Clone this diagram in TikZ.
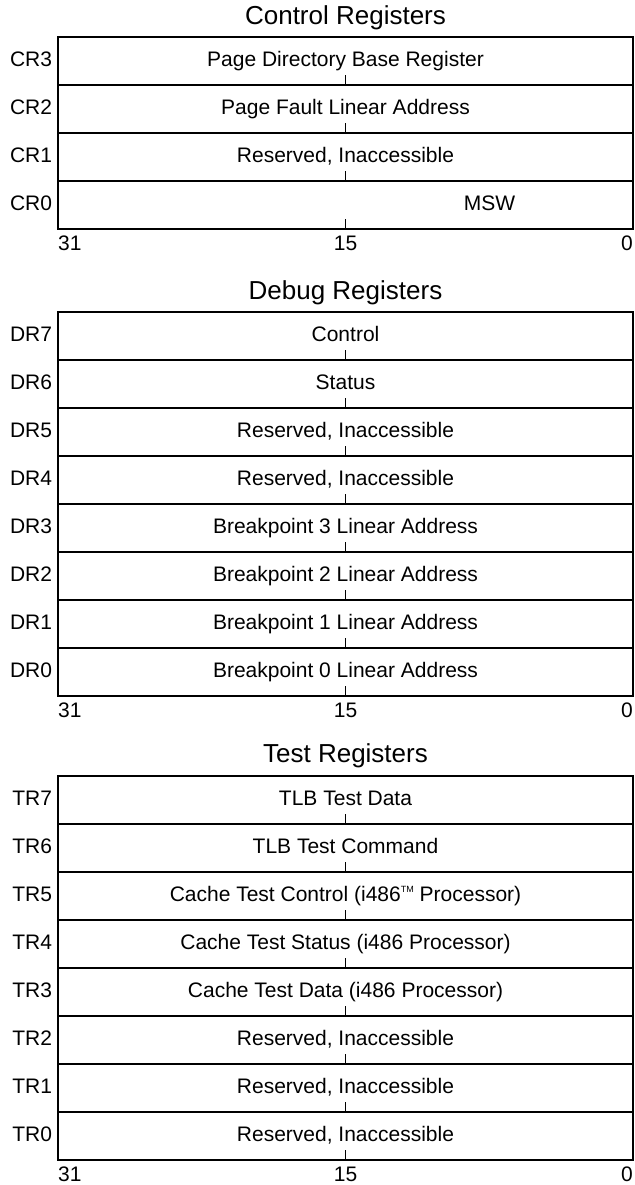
\documentclass[tikz,border=0pt]{standalone}
\usepackage{fontspec}
\setmainfont{Liberation Sans}
\usetikzlibrary{positioning}
\newcommand{\rowfont}{\fontsize{21}{24}\selectfont}
\newcommand{\ttlfont}{\fontsize{26}{30}\selectfont}
\newcommand{\tmark}{\raisebox{0.45em}{\fontsize{9}{9}\selectfont TM}}
\tikzset{reg/.style={draw,line width=1.5pt,minimum width=575pt,minimum height=48pt,inner sep=0,text height=15pt,text depth=4pt},
  regname/.style={inner sep=0,text height=15pt,text depth=4pt},
  bitno/.style={inner sep=0,text height=15pt,text depth=1pt},
  ttl/.style={inner sep=0,font=\ttlfont},
  tick/.style={line width=0.7pt}}
\begin{document}
\begin{tikzpicture}[x=1pt,y=-1pt,font=\rowfont]
\useasboundingbox (0,0) rectangle (634,1185);
% control registers
\node[ttl] (cttl) at (345.5,18) {Control Registers};
\foreach \n/\t [count=\k from 0] in {3/Page Directory Base Register,2/Page Fault Linear Address,1/{Reserved, Inaccessible},0/{}}{
  \node[reg] (cr\n) at (345.5,61+48*\k) {\t};
  \node[regname,left=5pt of cr\n] (crn\n) {CR\n};
  \draw[tick] (cr\n.south) -- ++(0,-11);
}
\node[regname] (msw) at (489.5,205) {MSW};
\node[bitno,anchor=west] (cb31) at (58,243) {31};
\node[bitno] (cb15) at (345.5,243) {15};
\node[bitno,anchor=east] (cb0) at (633,243) {0};
% debug registers
\node[ttl] (dttl) at (345.5,293) {Debug Registers};
\foreach \n/\t [count=\k from 0] in {7/Control,6/Status,5/{Reserved, Inaccessible},4/{Reserved, Inaccessible},
  3/Breakpoint 3 Linear Address,2/Breakpoint 2 Linear Address,1/Breakpoint 1 Linear Address,0/Breakpoint 0 Linear Address}{
  \node[reg] (dr\n) at (345.5,336+48*\k) {\t};
  \node[regname,left=5pt of dr\n] (drn\n) {DR\n};
  \draw[tick] (dr\n.south) -- ++(0,-11);
}
\node[bitno,anchor=west] (db31) at (58,710) {31};
\node[bitno] (db15) at (345.5,710) {15};
\node[bitno,anchor=east] (db0) at (633,710) {0};
% test registers
\node[ttl] (tttl) at (345.5,756) {Test Registers};
\foreach \n/\t [count=\k from 0] in {7/TLB Test Data,6/TLB Test Command,5/Cache Test Control (i486\tmark\ Processor),
  4/Cache Test Status (i486 Processor),3/Cache Test Data (i486 Processor),2/{Reserved, Inaccessible},1/{Reserved, Inaccessible},0/{Reserved, Inaccessible}}{
  \node[reg] (tr\n) at (345.5,800+48*\k) {\t};
  \node[regname,left=5pt of tr\n] (trn\n) {TR\n};
  \draw[tick] (tr\n.south) -- ++(0,-11);
}
\node[bitno,anchor=west] (tb31) at (58,1174) {31};
\node[bitno] (tb15) at (345.5,1174) {15};
\node[bitno,anchor=east] (tb0) at (633,1174) {0};
\end{tikzpicture}
\end{document}
